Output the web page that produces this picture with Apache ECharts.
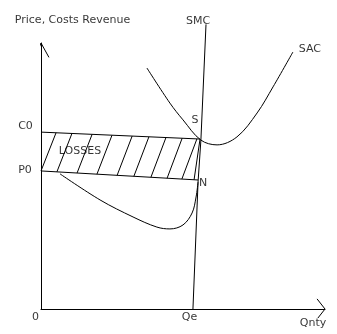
<!DOCTYPE html>
<html>
<head>
<meta charset="utf-8">
<script src="https://cdn.jsdelivr.net/npm/echarts@6/dist/echarts.min.js"></script>
<style>html,body{margin:0;padding:0;background:#fff}#c{width:337px;height:334px}</style>
</head>
<body>
<div id="c"></div>
<script>
// ---- data (quantity, cost units) ----
const smcQ = [53.5, 55.3, 56.3, 58.1];
const smcC = [0, 47.7, 63.5, 107];
const sacQ = [37.3, 45.4, 50.0, 56.3, 62.0, 69.0, 76.1, 81.7, 88.7];
const sacC = [90.6, 77.4, 71.1, 63.5, 61.7, 64.7, 73.7, 83.5, 96.6];
const avcQ = [6.7, 20.8, 32.4, 40.8, 45.4, 50.0, 53.2, 54.6, 55.3];
const avcC = [50.8, 41.0, 34.6, 30.8, 30.1, 31.6, 36.1, 42.1, 47.7];
const c0Q = [0, 56.0];
const c0C = [66.5, 63.9];
const p0Q = [0, 55.3];
const p0C = [51.9, 48.5];
const hatchQ = [0, 5.6, 12.7, 19.7, 26.8, 32.7, 38.7, 44.4, 49.6, 53.9];
const hatchSlant = 5.3;
const qe = 53.5;
const axisMax = 100;

const zip = (a, b) => a.map((v, i) => [v, b[i]]);
const lerp = (qs, cs, q) => cs[0] + (cs[1] - cs[0]) * (q - qs[0]) / (qs[1] - qs[0]);

const hatch = [];
hatchQ.forEach(q => {
  const qt = Math.min(q + hatchSlant, c0Q[1]);
  hatch.push([q, lerp(p0Q, p0C, q)]);
  hatch.push([qt, lerp(c0Q, c0C, qt)]);
  hatch.push(null);
});

const font = 'DejaVu Sans';
const ln = (data, extra) => Object.assign({
  type: 'line', data, symbol: 'none', clip: false, silent: true,
  lineStyle: { color: '#000', width: 1 }
}, extra || {});

const lbl = (pt, text, off) => ({
  value: pt,
  label: { show: true, formatter: text, position: 'inside', offset: off,
           color: '#000', fontFamily: font, fontSize: 11 }
});

const chart = echarts.init(document.getElementById('c'), null, { renderer: 'canvas' });
chart.setOption({
  animation: false,
  grid: { left: 41, right: 12, top: 43, bottom: 25 },
  xAxis: { type: 'value', min: 0, max: axisMax, axisLabel: { show: false },
           axisTick: { show: false }, splitLine: { show: false },
           axisLine: { show: true, onZero: false, lineStyle: { color: '#000', width: 1 } } },
  yAxis: { type: 'value', min: 0, max: axisMax, axisLabel: { show: false },
           axisTick: { show: false }, splitLine: { show: false },
           axisLine: { show: true, onZero: false, lineStyle: { color: '#000', width: 1 } } },
  series: [
    ln(zip(smcQ, smcC)),
    ln(zip(sacQ, sacC), { smooth: 0.35 }),
    ln(zip(avcQ, avcC), { smooth: 0.35 }),
    ln(zip(c0Q, c0C)),
    ln(zip(p0Q, p0C)),
    ln(hatch, { connectNulls: false }),
    // axis arrow heads
    ln([[-1.5, 96.0], [0, axisMax], [2.8, 94.6]]),
    ln([[97.2, 3.8], [axisMax, 0], [97.5, -3.4]]),
    {
      type: 'scatter', symbolSize: 0, silent: true, clip: false,
      data: [
        lbl([smcQ[3], smcC[3]], 'SMC', [-8, -3]),
        lbl([sacQ[8], sacC[8]], 'SAC', [17, -3]),
        lbl([sacQ[3], sacC[3]], 'S', [-6, -20]),
        lbl([c0Q[0], c0C[0]], 'C0', [-15.5, -6]),
        lbl([p0Q[0], p0C[0]], 'P0', [-16, -1]),
        lbl([p0Q[1], p0C[1]], 'N', [5, 3]),
        lbl([0, 0], '0', [-5.5, 8.5]),
        lbl([qe, 0], 'Qe', [-3.5, 8.5]),
        lbl([axisMax, 0], 'Qnty', [-12, 14]),
        lbl([p0Q[0], p0C[0]], 'LOSSES', [39, -20]),
        lbl([0, axisMax], 'Price, Costs Revenue', [31.5, -23])
      ]
    }
  ]
});
</script>
</body>
</html>
